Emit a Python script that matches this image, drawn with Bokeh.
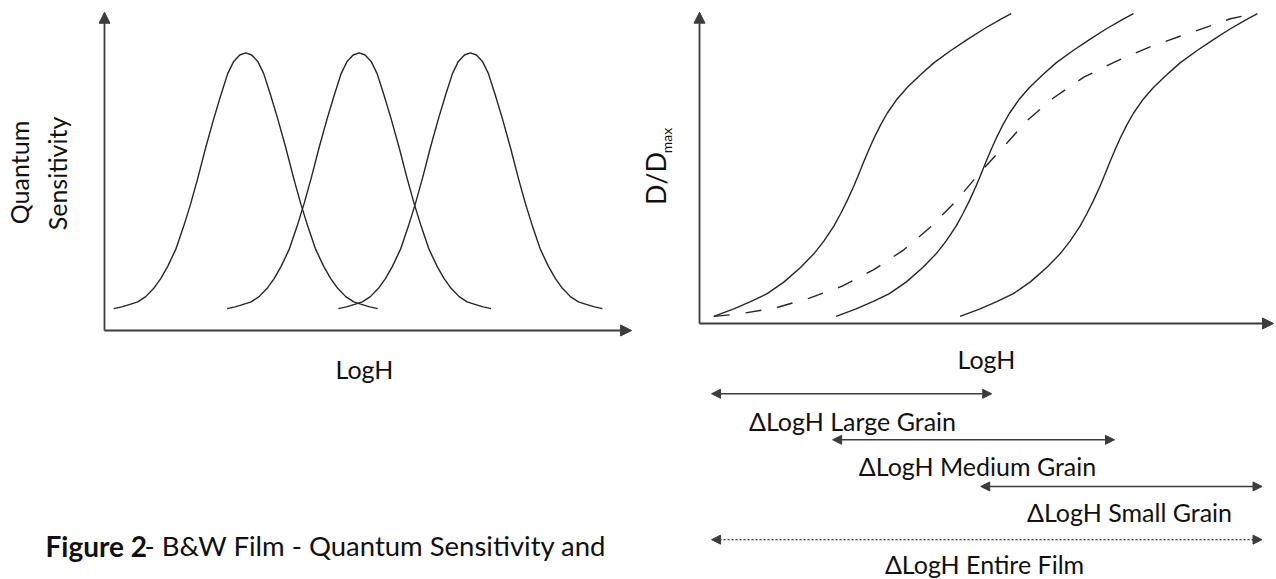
import math
from bokeh.plotting import figure
from bokeh.models import Range1d, Arrow, NormalHead, Label
from bokeh.embed import file_html
from bokeh.resources import INLINE

# ---------------- data ----------------
# Left panel: quantum sensitivity of three grain populations vs LogH
bell_dx = [-2.514, -2.362, -2.190, -2.057, -1.905, -1.752, -1.619, -1.486, -1.333,
           -1.181, -1.048, -0.914, -0.762, -0.610, -0.476, -0.343, -0.229, -0.114, 0.0,
           0.114, 0.229, 0.343, 0.476, 0.610, 0.762, 0.914, 1.048, 1.181,
           1.333, 1.486, 1.619, 1.752, 1.905, 2.057, 2.190, 2.362, 2.514]
bell_sens = [0.079, 0.085, 0.095, 0.103, 0.122, 0.152, 0.187, 0.231, 0.292,
             0.376, 0.457, 0.548, 0.659, 0.762, 0.846, 0.925, 0.969, 0.992, 1.0,
             0.992, 0.969, 0.925, 0.846, 0.762, 0.659, 0.548, 0.457, 0.376,
             0.292, 0.231, 0.187, 0.152, 0.122, 0.103, 0.095, 0.085, 0.079]
peak_logh = [2.69, 4.85, 6.97]

# Right panel: D/Dmax characteristic curves vs LogH
grain_logh = [0.250, 0.598, 0.889, 1.179, 1.469, 1.760, 1.992, 2.166, 2.340, 2.456,
              2.573, 2.689, 2.776, 2.863, 2.950, 3.037, 3.153, 3.270, 3.444, 3.618,
              3.850, 4.082, 4.373, 4.663, 4.953, 5.244, 5.430]
grain_d = [0.023, 0.047, 0.070, 0.096, 0.133, 0.180, 0.224, 0.265, 0.313, 0.352,
           0.395, 0.442, 0.481, 0.521, 0.559, 0.595, 0.638, 0.676, 0.722, 0.759,
           0.800, 0.838, 0.877, 0.913, 0.947, 0.978, 0.996]
grain_shift = [0.0, 2.13, 4.29]          # large, medium, small grain
film_logh = [0.249, 0.702, 1.324, 1.904, 2.486, 3.037, 3.559, 4.024, 4.460, 4.866,
             5.291, 5.709, 6.172, 6.695, 7.247, 7.828, 8.409, 8.960, 9.251, 9.686]
film_d = [0.023, 0.031, 0.050, 0.081, 0.120, 0.173, 0.237, 0.310, 0.392, 0.481,
          0.567, 0.653, 0.726, 0.792, 0.842, 0.888, 0.926, 0.961, 0.980, 0.997]

# Exposure latitude ranges (LogH)
range_labels = ["\u0394LogH Large Grain", "\u0394LogH Medium Grain",
                "\u0394LogH Small Grain", "\u0394LogH Entire Film"]
range_start = [0.21, 2.32, 4.90, 0.21]
range_end = [5.09, 7.23, 9.80, 9.80]

# ---------------- figure ----------------
W, H = 1276, 579
p = figure(width=W, height=H, output_backend="svg", toolbar_location=None,
           x_range=Range1d(0, W), y_range=Range1d(H, 0),
           x_axis_location=None, y_axis_location=None,
           min_border=0, outline_line_color=None, tools="")
p.grid.visible = False
p.background_fill_color = "white"
p.border_fill_color = "white"

# left panel scales: LogH 0 at px 104 (52.5 px/unit); sensitivity 0 at py 330 (277.7 px/unit)
lx0, lxs, ly0, lys = 104.0, 52.5, 330.0, 277.7
p.extra_x_ranges["lx"] = Range1d(-lx0 / lxs, (W - lx0) / lxs)
p.extra_y_ranges["ly"] = Range1d(-(H - ly0) / lys, ly0 / lys)
# right panel scales: LogH 0 at px 699 (57.4 px/unit); D/Dmax 0 at py 323 (311 px/unit)
rx0, rxs, ry0, rys = 699.0, 57.4, 323.0, 311.0
p.extra_x_ranges["rx"] = Range1d(-rx0 / rxs, (W - rx0) / rxs)
p.extra_y_ranges["ry"] = Range1d(-(H - ry0) / rys, ry0 / rys)

AX = "#3c3c3c"
CURVE = "#262626"
FONT = "Lato"

def head(size):
    return NormalHead(size=size, fill_color=AX, line_color=AX, line_width=1)

def axis_arrow(x0, y0, x1, y1, xr, yr):
    p.add_layout(Arrow(x_start=x0, y_start=y0, x_end=x1, y_end=y1,
                       x_range_name=xr, y_range_name=yr, line_color=AX,
                       line_width=1.8, end=head(11)))

# axes
axis_arrow(0, 0, 10.04, 0, "lx", "ly")
axis_arrow(0, 0, 0, 1.146, "lx", "ly")
axis_arrow(0, 0, 10.0, 0, "rx", "ry")
axis_arrow(0, 0, 0, 1.001, "rx", "ry")

# left curves
for c in peak_logh:
    p.line([c + d for d in bell_dx], bell_sens, x_range_name="lx", y_range_name="ly",
           line_color=CURVE, line_width=1.4, line_join="round")

# right curves
for s in grain_shift:
    p.line([x + s for x in grain_logh], grain_d, x_range_name="rx", y_range_name="ry",
           line_color=CURVE, line_width=1.4, line_join="round")
p.line(film_logh, film_d, x_range_name="rx", y_range_name="ry",
       line_color=CURVE, line_width=1.4, line_dash="16 16")

# latitude arrows
range_row = [-0.226, -0.374, -0.524, -0.695]
for i in range(4):
    p.add_layout(Arrow(x_start=range_start[i], y_start=range_row[i],
                       x_end=range_end[i], y_end=range_row[i],
                       x_range_name="rx", y_range_name="ry",
                       line_color=AX, line_width=1.6 if i < 3 else 1.3,
                       line_dash="solid" if i < 3 else "2 2",
                       start=head(9), end=head(9)))

def label(x, y, text, size=25.0, angle=0.0, weight="normal", align="center"):
    p.add_layout(Label(x=x, y=y, text=text, text_font=FONT,
                       text_font_size=f"{size}px", text_color="#111111",
                       text_align=align, text_baseline="middle",
                       angle=angle, text_font_style=weight))

label_x = [852, 977, 1129, 984]
label_y = [420, 465, 511, 563]
for i in range(4):
    label(label_x[i], label_y[i], range_labels[i])

# axis titles
label(18, 172, "Quantum", angle=math.pi / 2)
label(56, 173, "Sensitivity", angle=math.pi / 2)
label(364, 368, "LogH")
label(986, 358, "LogH")
label(655, 178, "D/D", size=27, angle=math.pi / 2, align="center")
label(666, 140, "max", size=14, angle=math.pi / 2)

# caption
label(45, 545, "Figure 2", size=28, weight="bold", align="left")
label(144, 545, "- B&W Film - Quantum Sensitivity and", size=27.5, align="left")

open("out.html", "w").write(file_html(p, INLINE))
